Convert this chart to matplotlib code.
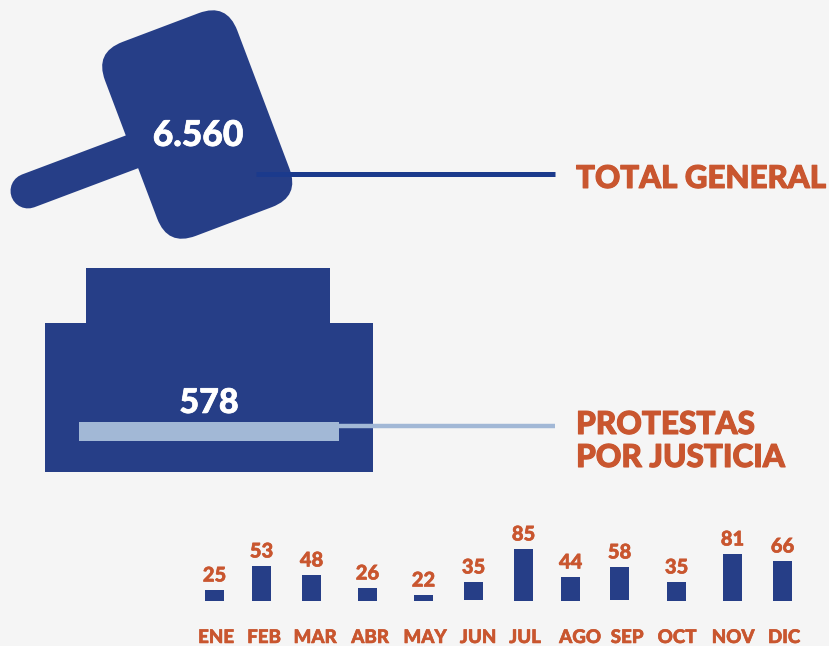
import matplotlib
matplotlib.use("Agg")
import matplotlib.pyplot as plt
import matplotlib.patheffects as pe
from matplotlib.patches import FancyBboxPatch, Rectangle
from matplotlib.transforms import Affine2D

months = ["ENE", "FEB", "MAR", "ABR", "MAY", "JUN", "JUL", "AGO", "SEP", "OCT", "NOV", "DIC"]
month_values = [25, 53, 48, 26, 22, 35, 85, 44, 58, 35, 81, 66]
# the bars in the original are not to scale with their labels, so read separately
bar_heights = [11, 35, 26, 13, 6, 18, 52, 24, 33, 19, 47, 40]
total_general = "6.560"
protestas_justicia = "578"

bar_x = [214.5, 261.5, 311.5, 367.5, 423.5, 473.5, 523.5, 570.5, 619.5, 676.5, 732.5, 782.5]
bar_bottom = [601, 601, 601, 601, 601, 600, 601, 601, 600, 601, 601, 601]
label_x = [216, 264, 315, 370, 425, 478, 525, 580, 627, 677, 733, 784]

BG = "#f5f5f5"
BLUE = "#263e87"
LINE_BLUE = "#1b3a8c"
LIGHT = "#a2b8d6"
ORANGE = "#c9562f"

plt.rcParams["font.family"] = ["Lato", "DejaVu Sans"]


def heavy(color, w=0.5):
    # Lato bold is a bit thin next to the original font
    return [pe.withStroke(linewidth=w, foreground=color)]


fig = plt.figure(figsize=(8.291, 6.461), dpi=100, facecolor=BG)
ax = fig.add_axes([0, 0, 1, 1])
ax.set_xlim(0, 829)
ax.set_ylim(646, 0)
ax.axis("off")

# gavel
ax.plot([28, 145], [191, 147], color=BLUE, lw=25.2, solid_capstyle="round", zorder=1)
head_w, head_h, r = 141.4, 207.3, 30
cx, cy = 197.2, 124.6
head = FancyBboxPatch((cx - head_w / 2 + r, cy - head_h / 2 + r), head_w - 2 * r, head_h - 2 * r,
                      boxstyle=f"round,pad={r},rounding_size={r}", fc=BLUE, ec="none", zorder=2,
                      transform=Affine2D().rotate_deg_around(cx, cy, -20.7) + ax.transData)
ax.add_patch(head)

# base
ax.add_patch(Rectangle((86, 268), 244, 56, fc=BLUE, ec="none"))
ax.add_patch(Rectangle((45, 323), 328, 149, fc=BLUE, ec="none"))
ax.add_patch(Rectangle((79, 422), 260, 19, fc=LIGHT, ec="none", zorder=3))

# connector lines
ax.plot([256, 555], [174.5, 174.5], color=LINE_BLUE, lw=3.6, solid_capstyle="butt", zorder=3)
ax.plot([339, 555], [426, 426], color=LIGHT, lw=3.2, solid_capstyle="butt", zorder=3)

ax.text(198, 146, total_general, color="white", fontsize=25.5, fontweight="black", ha="center", va="baseline",
        zorder=4, path_effects=heavy("white"))
ax.text(209, 413, protestas_justicia, color="white", fontsize=24.5, fontweight="black", ha="center", va="baseline",
        zorder=4, path_effects=heavy("white"))
ax.text(576, 188, "TOTAL GENERAL", color=ORANGE, fontsize=22.5, fontweight="black", va="baseline",
        path_effects=heavy(ORANGE, 0.8))
ax.text(576, 434, "PROTESTAS", color=ORANGE, fontsize=22.7, fontweight="black", va="baseline",
        path_effects=heavy(ORANGE, 0.8))
ax.text(576, 467, "POR JUSTICIA", color=ORANGE, fontsize=22.7, fontweight="black", va="baseline",
        path_effects=heavy(ORANGE, 0.8))

# monthly bars
ax.bar(bar_x, [-h for h in bar_heights], width=19, bottom=bar_bottom, color=BLUE)
for x, b, h, v in zip(bar_x, bar_bottom, bar_heights, month_values):
    ax.text(x, b - h - 8.5, str(v), color=ORANGE, fontsize=14.5, fontweight="black", ha="center", va="baseline",
            path_effects=heavy(ORANGE, 0.4))
for x, m in zip(label_x, months):
    ax.text(x, 643, m, color=ORANGE, fontsize=13.5, fontweight="black", ha="center", va="baseline",
            path_effects=heavy(ORANGE, 0.4))

fig.savefig("out.png", dpi=100, facecolor=BG)
